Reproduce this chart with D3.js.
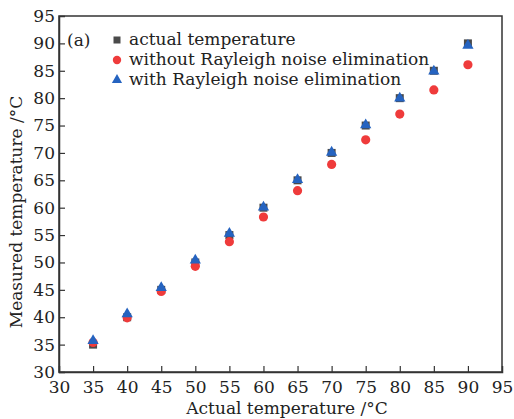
<!DOCTYPE html>
<html><head><meta charset="utf-8">
<script src="https://cdn.jsdelivr.net/npm/d3@7"></script>
<style>body{margin:0;background:#fff}</style>
</head><body><svg id="c" width="514" height="419"></svg>
<script>
const actualT = [35,40,45,50,55,60,65,70,75,80,85,90];
const actualMeasured = [35,40,45,50,55,60,65,70,75,80,85,90];
const withoutElim = [35.4,39.9,44.7,49.3,53.8,58.3,63.1,67.9,72.4,77.1,81.5,86.1];
const withElim = [35.7,40.6,45.4,50.4,55.3,60.1,65.1,70.1,75.1,80.0,84.9,89.6];
const xTicks = [30,35,40,45,50,55,60,65,70,75,80,85,90,95];
const yTicks = [30,35,40,45,50,55,60,65,70,75,80,85,90,95];
const legendLabels = ["actual temperature","without Rayleigh noise elimination","with Rayleigh noise elimination"];

const svg = d3.select("#c");
const font = "'DejaVu Serif', 'Liberation Serif', serif";
const L=59,R=502,T=16,B=372;
const x = d3.scaleLinear().domain([30,95]).range([L,R]);
const y = d3.scaleLinear().domain([30,95]).range([B,T]);

svg.append("rect").attr("x",L).attr("y",T).attr("width",R-L).attr("height",B-T)
  .attr("fill","none").attr("stroke","#333").attr("stroke-width",1.5);

const xa = svg.append("g").attr("transform",`translate(0,${B})`)
  .call(d3.axisBottom(x).tickValues(xTicks).tickSize(-6).tickPadding(9));
const ya = svg.append("g").attr("transform",`translate(${L},0)`)
  .call(d3.axisLeft(y).tickValues(yTicks).tickSize(-6).tickPadding(4));
[xa,ya].forEach(a=>{
  a.select(".domain").attr("stroke","#333").attr("stroke-width",1.5);
  a.selectAll(".tick line").attr("stroke","#333").attr("stroke-width",1.2);
  a.selectAll("text").attr("font-family",font).attr("font-size",17).attr("fill","#222");
});
ya.selectAll(".tick").filter(d=>d===95||d===30).select("line").remove();
xa.selectAll(".tick").filter(d=>d===95||d===30).select("line").remove();

svg.append("text").attr("x",287).attr("y",414).attr("text-anchor","middle")
  .attr("font-family",font).attr("font-size",17).attr("fill","#222").text("Actual temperature /°C");
svg.append("text").attr("transform","translate(22,212) rotate(-90)").attr("text-anchor","middle")
  .attr("font-family",font).attr("font-size",17).attr("fill","#222").text("Measured temperature /°C");

svg.append("text").attr("x",67).attr("y",46).attr("font-family",font).attr("font-size",17).attr("fill","#222").text("(a)");

const sq=8, tri=d3.symbol().type(d3.symbolTriangle).size(55);
svg.append("g").selectAll("rect").data(actualT).join("rect")
  .attr("x",(d,i)=>x(d)-sq/2).attr("y",(d,i)=>y(actualMeasured[i])-sq/2)
  .attr("width",sq).attr("height",sq).attr("fill","#4a4a4a");
svg.append("g").selectAll("circle").data(actualT).join("circle")
  .attr("cx",d=>x(d)).attr("cy",(d,i)=>y(withoutElim[i])).attr("r",4.6).attr("fill","#ef3b3b");
svg.append("g").selectAll("path").data(actualT).join("path")
  .attr("d",tri).attr("transform",(d,i)=>`translate(${x(d)},${y(withElim[i])})`).attr("fill","#2563c0");

const lg = svg.append("g");
const ly=[40,60,80], lx=117;
lg.append("rect").attr("x",lx-3.5).attr("y",ly[0]-3.5).attr("width",7).attr("height",7).attr("fill","#4a4a4a");
lg.append("circle").attr("cx",lx).attr("cy",ly[1]).attr("r",4.2).attr("fill","#ef3b3b");
lg.append("path").attr("d",d3.symbol().type(d3.symbolTriangle).size(45)).attr("transform",`translate(${lx},${ly[2]})`).attr("fill","#2563c0");
legendLabels.forEach((t,i)=>lg.append("text").attr("x",129).attr("y",ly[i]+5)
  .attr("font-family",font).attr("font-size",17).attr("fill","#222").text(t));
</script></body></html>
